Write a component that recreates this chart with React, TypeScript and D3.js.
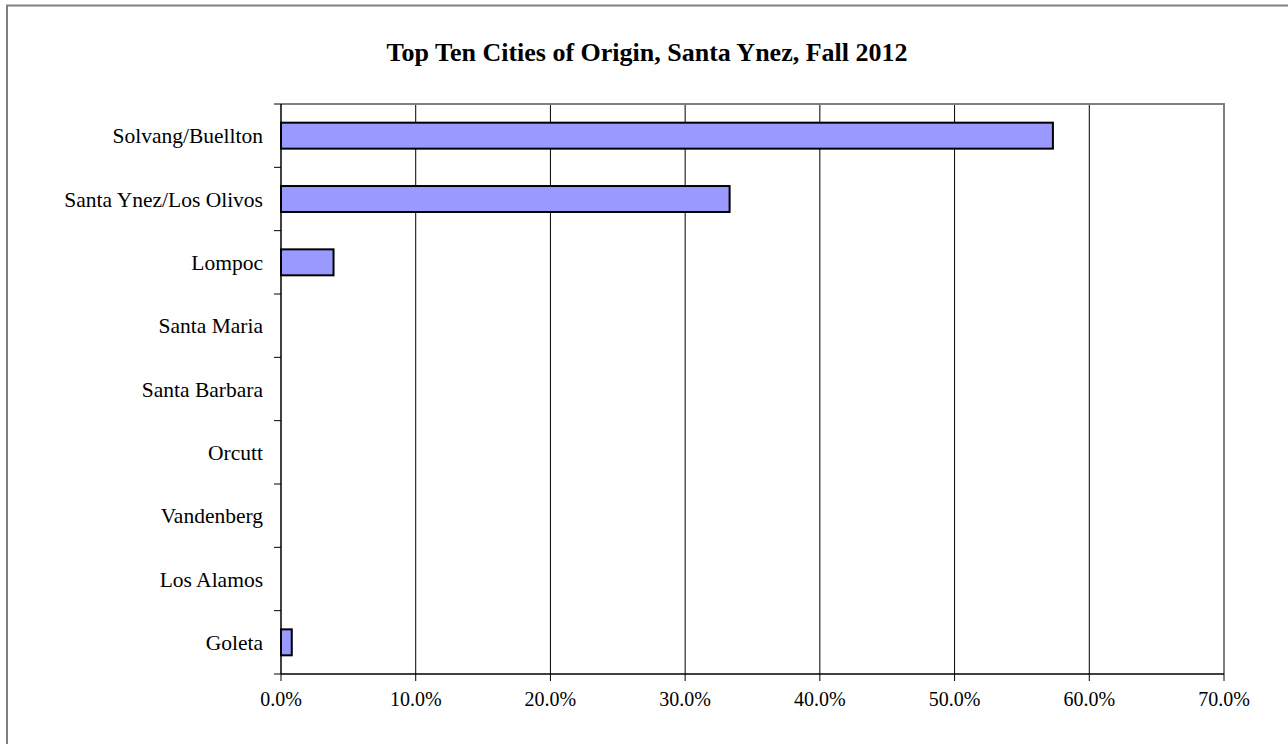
import React from "react";
import * as d3 from "d3";

const categories = [
  "Solvang/Buellton",
  "Santa Ynez/Los Olivos",
  "Lompoc",
  "Santa Maria",
  "Santa Barbara",
  "Orcutt",
  "Vandenberg",
  "Los Alamos",
  "Goleta",
];
const values = [0.573, 0.333, 0.039, 0, 0, 0, 0, 0, 0.008];
const xTicks = [0, 0.1, 0.2, 0.3, 0.4, 0.5, 0.6, 0.7];
const title = "Top Ten Cities of Origin, Santa Ynez, Fall 2012";

export default function App() {
  const W = 1288, H = 744;
  const left = 281, right = 1224, top = 104, bottom = 674;
  const x = d3.scaleLinear().domain([0, 0.7]).range([left, right]);
  const y = d3.scaleBand<string>().domain(categories).range([top, bottom]).paddingInner(0.59).paddingOuter(0.295);
  const step = y.step();
  const fmt = d3.format(".1%");
  const font = "'Liberation Serif', 'Times New Roman', serif";
  return (
    <svg width={W} height={H} style={{ position: "absolute", left: 0, top: 0, background: "#fff" }} fontFamily={font}>
      <rect x={7} y={5.5} width={1400} height={800} fill="#fff" stroke="#808080" strokeWidth={2} />
      <text x={647} y={61} textAnchor="middle" fontWeight="bold" fontSize={26}>{title}</text>
      {/* gridlines */}
      {xTicks.slice(1, -1).map((t) => (
        <line key={t} x1={x(t)} x2={x(t)} y1={top} y2={bottom} stroke="#000" strokeWidth={1} />
      ))}
      {/* plot border top/right */}
      <path d={`M${left},${top}H${right}V${bottom}`} fill="none" stroke="#808080" strokeWidth={2} />
      {/* bars */}
      {categories.map((c, i) =>
        values[i] > 0 ? (
          <rect key={c} x={x(0)} y={y(c)!} width={x(values[i]) - x(0)} height={y.bandwidth()} fill="#9999FF" stroke="#000" strokeWidth={2} />
        ) : null
      )}
      {/* y axis */}
      <line x1={left} x2={left} y1={top} y2={bottom} stroke="#000" strokeWidth={1.5} />
      {d3.range(categories.length + 1).map((i) => (
        <line key={i} x1={left - 7} x2={left} y1={top + i * step} y2={top + i * step} stroke="#000" strokeWidth={1} />
      ))}
      {categories.map((c) => (
        <text key={c} x={263} y={y(c)! + y.bandwidth() / 2} dy="0.35em" textAnchor="end" fontSize={21.5}>{c}</text>
      ))}
      {/* x axis */}
      <line x1={left} x2={right} y1={bottom} y2={bottom} stroke="#000" strokeWidth={1.5} />
      {xTicks.map((t) => (
        <g key={t}>
          <line x1={x(t)} x2={x(t)} y1={bottom} y2={bottom + 7} stroke="#000" strokeWidth={1} />
          <text x={x(t)} y={706} textAnchor="middle" fontSize={20}>{fmt(t)}</text>
        </g>
      ))}
    </svg>
  );
}
